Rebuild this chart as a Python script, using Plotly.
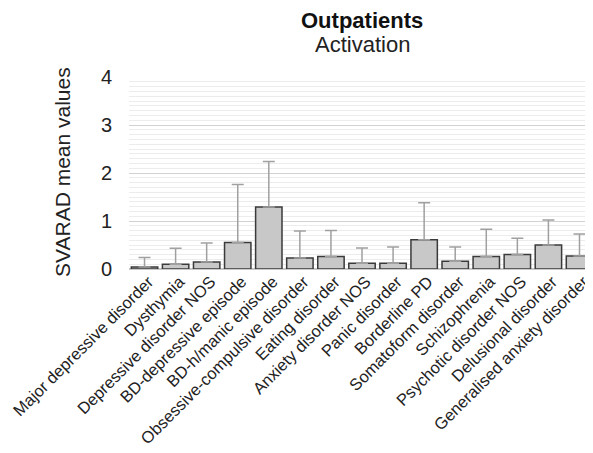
import plotly.graph_objects as go

categories = ["Major depressive disorder", "Dysthymia", "Depressive disorder NOS",
              "BD-depressive episode", "BD-h/manic episode", "Obsessive-compulsive disorder",
              "Eating disorder", "Anxiety disorder NOS", "Panic disorder", "Borderline PD",
              "Somatoform disorder", "Schizophrenia", "Psychotic disorder NOS",
              "Delusional disorder", "Generalised anxiety disorder"]
means = [0.04, 0.10, 0.145, 0.55, 1.29, 0.23, 0.26, 0.12, 0.12, 0.61, 0.16, 0.26, 0.30, 0.50, 0.27]
sds = [0.20, 0.33, 0.395, 1.21, 0.95, 0.56, 0.54, 0.32, 0.34, 0.77, 0.30, 0.57, 0.34, 0.52, 0.46]

# page body has an 8px margin, so the figure is 8px smaller than the window
W, H = 585, 445
L, R, T, B = 121, 0, 69, 184
FONT = "Liberation Sans, Arial, sans-serif"

fig = go.Figure(go.Bar(
    x=categories, y=means,
    marker=dict(color="#c8c8c8", line=dict(color="#3a3a3a", width=1.5)),
    width=0.85,
    error_y=dict(type="data", array=sds, symmetric=False, arrayminus=[0]*len(sds),
                 color="#a0a0a0", thickness=1.5, width=6),
))

fig.update_layout(
    width=W, height=H,
    margin=dict(l=L, r=R, t=T, b=B, pad=0, autoexpand=False),
    plot_bgcolor="white", paper_bgcolor="white",
    showlegend=False,
    font=dict(family=FONT, color="#222222"),
    xaxis=dict(range=[-0.5, 14.435], tickangle=-45, tickfont=dict(size=16.5, color="#222"),
               ticklabelshift=4, ticklabelstandoff=-1,
               showgrid=False, ticks="", showline=False, zeroline=False, automargin=False),
    yaxis=dict(range=[0, 4.0], tickvals=[0, 1, 2, 3, 4], tickfont=dict(size=20, color="#222"),
               showgrid=True, gridcolor="#d2d2d2", gridwidth=1,
               minor=dict(dtick=0.1, showgrid=True, gridcolor="#ececec", gridwidth=1),
               zeroline=True, zerolinecolor="#c8c8c8", zerolinewidth=2,
               ticks="", ticklabelstandoff=16, showline=False, automargin=False),
    annotations=[
        dict(text="<b>Outpatients</b>", x=354, y=12, xref="paper", yref="paper",
             showarrow=False, font=dict(size=22, color="#111"), yanchor="middle"),
        dict(text="Activation", x=354, y=37, xref="paper", yref="paper",
             showarrow=False, font=dict(size=22, color="#222"), yanchor="middle"),
        dict(text="SVARAD mean values", textangle=-90, x=54, y=164, xref="paper", yref="paper",
             showarrow=False, font=dict(size=21, color="#222"), xanchor="center", yanchor="middle"),
    ],
)

# convert pixel positions (figure coordinates) of annotations to paper coordinates
pw = W - L - R
ph = H - T - B
for a in fig.layout.annotations:
    a.y = (H - B - a.y) / ph
    a.x = (a.x - L) / pw

fig.write_html("out.html")
